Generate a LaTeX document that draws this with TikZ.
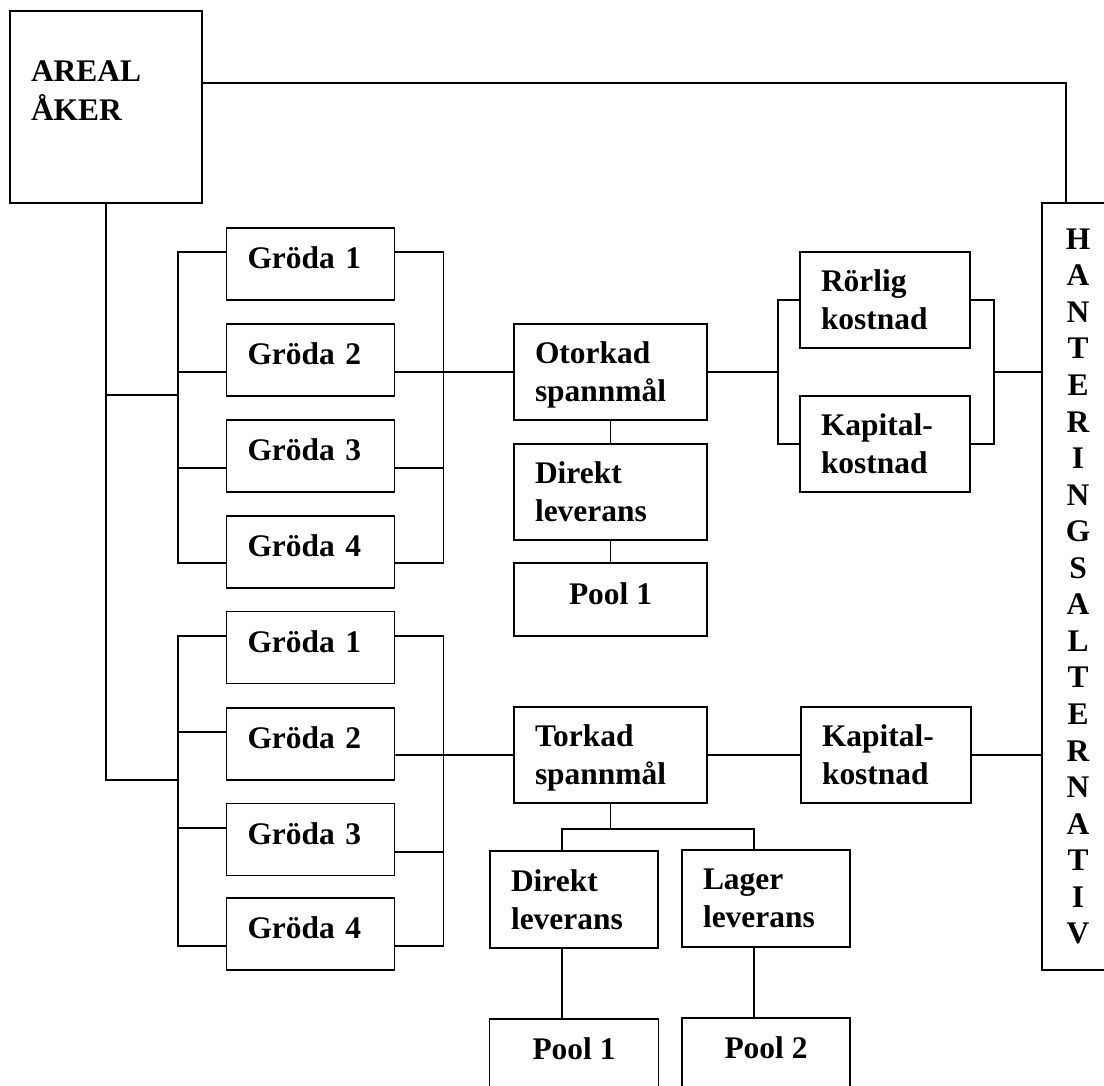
\documentclass[tikz,border=0pt]{standalone}
\usepackage{fontspec}
\setmainfont{Liberation Serif}
\usepackage{tikz}
\newcommand{\rutafont}{\bfseries\fontsize{17.9}{21.8}\selectfont}
\newcommand{\hantfont}{\bfseries\fontsize{17.9}{20.8}\selectfont}

\begin{document}
\begin{tikzpicture}[
        ruta/.style={draw=black, line width=1.1pt, inner sep=0pt, font=\rutafont},
        ruta_text/.style={ruta, align=left, inner xsep=0.42cm, text width=#1, minimum height=1.92cm},
        ruta_kort/.style={ruta, align=left, inner xsep=0.42cm, text width=#1, minimum height=1.44cm, text height=0.43cm, text depth=0.25cm},
        ruta_pool/.style={ruta, minimum width=#1, minimum height=1.44cm, text height=0.43cm, text depth=0.25cm},
        linje/.style={line width=1.1pt, draw=black}
    ]
        % Bildens ram (skala 1 px = 0.02 cm), nederkanten skär poolrutorna
        \useasboundingbox (0,0) rectangle (22.08,-21.7);
        \clip (0,0) rectangle (22.08,-21.7);

        % Areal åker och hanteringsalternativ
        \node[ruta, align=left, inner xsep=0.42cm, text width=3.0cm, minimum height=3.84cm, text depth=1.42cm] (areal) at (2.12,-2.14) {AREAL\\ÅKER};
        \node[ruta, align=center, font=\hantfont, minimum width=1.44cm, minimum height=15.34cm] (hant) at (21.56,-11.73) {H\\A\\N\\T\\E\\R\\I\\N\\G\\S\\A\\L\\T\\E\\R\\N\\A\\T\\I\\V};

        % Grödor, övre gruppen (otorkad)
        \node[ruta_kort=2.52cm] (g1) at (6.21,-5.28) {Gröda 1};
        \node[ruta_kort=2.52cm] (g2) at (6.21,-7.20) {Gröda 2};
        \node[ruta_kort=2.52cm] (g3) at (6.21,-9.12) {Gröda 3};
        \node[ruta_kort=2.52cm] (g4) at (6.21,-11.04) {Gröda 4};

        % Grödor, nedre gruppen (torkad)
        \node[ruta_kort=2.52cm] (h1) at (6.21,-12.95) {Gröda 1};
        \node[ruta_kort=2.52cm] (h2) at (6.21,-14.88) {Gröda 2};
        \node[ruta_kort=2.52cm] (h3) at (6.21,-16.79) {Gröda 3};
        \node[ruta_kort=2.52cm] (h4) at (6.21,-18.68) {Gröda 4};

        % Otorkad spannmål med leverans och kostnader
        \node[ruta_text=3.02cm, text depth=0.77cm] (otork) at (12.21,-7.44) {Otorkad\\spannmål};
        \node[ruta_text=3.02cm] (direkt1) at (12.21,-9.84) {Direkt\\leverans};
        \node[ruta_pool=3.86cm, minimum height=1.46cm] (pool1a) at (12.21,-11.99) {Pool 1};
        \node[ruta_text=2.56cm] (roerlig) at (17.70,-6.00) {Rörlig\\kostnad};
        \node[ruta_text=2.56cm] (kap1) at (17.70,-8.88) {Kapital-\\kostnad};

        % Torkad spannmål med leverans och kostnad
        \node[ruta_text=3.02cm, text depth=0.77cm] (tork) at (12.21,-15.10) {Torkad\\spannmål};
        \node[ruta_text=2.56cm] (kap2) at (17.72,-15.10) {Kapital-\\kostnad};
        \node[ruta_text=2.52cm, minimum height=1.94cm] (direkt2) at (11.48,-17.99) {Direkt\\leverans};
        \node[ruta_text=2.52cm, minimum height=1.94cm] (lager) at (15.32,-17.97) {Lager\\leverans};
        \node[ruta_pool=3.38cm] (pool1b) at (11.48,-21.10) {Pool 1};
        \node[ruta_pool=3.36cm] (pool2) at (15.32,-21.08) {Pool 2};

        % Areal åker till hanteringsalternativ och till grödorna
        \draw[linje] ([yshift=0.48cm]areal.east) -| ([xshift=-0.24cm]hant.north);
        \coordinate (gren_o) at (3.57,-7.90);
        \coordinate (gren_u) at (3.57,-15.60);
        \draw[linje] (areal.south) |- (gren_u);
        \draw[linje] (areal.south |- gren_o) -- (gren_o);

        % Klamrar runt övre grödorna
        \draw[linje] ([yshift=0.24cm]g1.west) -- ++(-0.96,0) |- ([yshift=-0.22cm]g4.west);
        \draw[linje] ([yshift=-0.24cm]g2.west) -- ++(-0.96,0);
        \draw[linje] ([yshift=-0.24cm]g3.west) -- ++(-0.96,0);
        \draw[linje] ([yshift=0.24cm]g1.east) -- ++(0.96,0) |- ([yshift=-0.22cm]g4.east);
        \draw[linje] ([yshift=-0.24cm]g2.east) -- (otork.west);
        \draw[linje] ([yshift=-0.24cm]g3.east) -- ++(0.96,0);

        % Klamrar runt nedre grödorna
        \draw[linje] ([yshift=0.23cm]h1.west) -- ++(-0.96,0) |- ([yshift=-0.24cm]h4.west);
        \draw[linje] ([yshift=0.24cm]h2.west) -- ++(-0.96,0);
        \draw[linje] ([yshift=0.23cm]h3.west) -- ++(-0.96,0);
        \draw[linje] ([yshift=0.23cm]h1.east) -- ++(0.96,0) |- ([yshift=-0.24cm]h4.east);
        \draw[linje] ([yshift=-0.22cm]h2.east) -- (tork.west);
        \draw[linje] ([yshift=-0.25cm]h3.east) -- ++(0.96,0);

        % Otorkad: kostnader och leverans
        \coordinate (kost_v) at (15.56,-7.44);
        \coordinate (kost_h) at (19.88,-7.44);
        \draw[linje] (otork.east) -- (kost_v);
        \draw[linje] (roerlig.west) -| (kost_v) |- (kap1.west);
        \draw[linje] (roerlig.east) -| (kost_h) |- (kap1.east);
        \draw[linje] (kost_h) -- (hant.west |- kost_h);
        \draw[linje] (otork.south) -- (direkt1.north);
        \draw[linje] (direkt1.south) -- (pool1a.north);

        % Torkad: kostnad och leverans
        \draw[linje] (tork.east) -- (kap2.west);
        \draw[linje] (kap2.east) -- (hant.west |- kap2.east);
        \draw[linje] (tork.south) -- ++(0,-0.5) coordinate (delning);
        \draw[linje] ([xshift=-0.24cm]direkt2.north) |- (delning) -| ([xshift=-0.24cm]lager.north);
        \draw[linje] ([xshift=-0.24cm]direkt2.south) -- ([xshift=-0.24cm]pool1b.north);
        \draw[linje] ([xshift=-0.24cm]lager.south) -- ([xshift=-0.24cm]pool2.north);
    \end{tikzpicture}
\end{document}
